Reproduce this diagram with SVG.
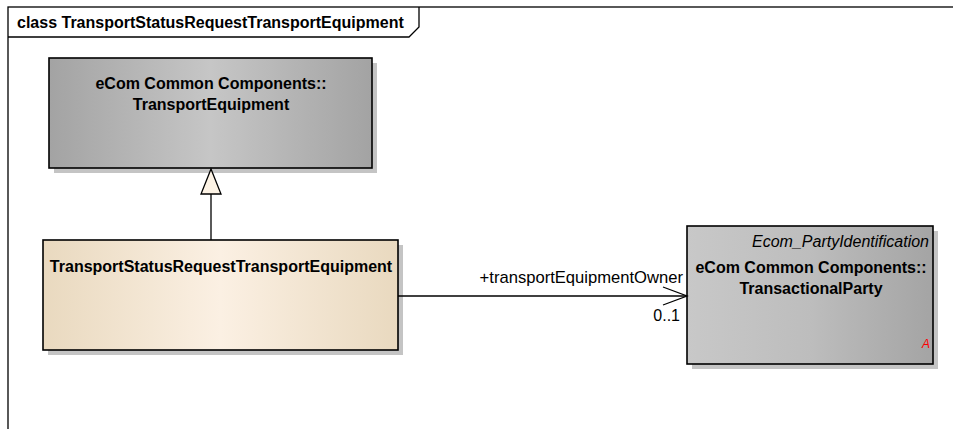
<svg xmlns="http://www.w3.org/2000/svg" width="953" height="429" viewBox="0 0 953 429">
<style>
.frame{fill:none;stroke:#000;stroke-width:1.3}
.box{stroke:#000;stroke-width:1.6}
.shadow{fill:#c4c4c4}
.name{font-family:"Liberation Sans",Arial,sans-serif;font-size:16px;font-weight:bold;fill:#000;text-anchor:middle}
.title{font-family:"Liberation Sans",Arial,sans-serif;font-size:16px;font-weight:bold;fill:#000}
.lbl{font-family:"Liberation Sans",Arial,sans-serif;font-size:16px;fill:#000}
.role{font-size:16.6px}
.it{font-family:"Liberation Sans",Arial,sans-serif;font-size:16px;font-style:italic;fill:#000}
.conn{fill:none;stroke:#000;stroke-width:1.3}
</style>
<defs>
<linearGradient id="gGray" x1="0" y1="0" x2="1" y2="0">
<stop offset="0" stop-color="#a3a3a3"/>
<stop offset="0.5" stop-color="#c6c6c6"/>
<stop offset="1" stop-color="#a3a3a3"/>
</linearGradient>
<linearGradient id="gTan" x1="0" y1="0" x2="1" y2="0">
<stop offset="0" stop-color="#e9d9bf"/>
<stop offset="0.5" stop-color="#fbf0e3"/>
<stop offset="1" stop-color="#e9d9bf"/>
</linearGradient>
<linearGradient id="gParty" x1="0" y1="0" x2="1" y2="0">
<stop offset="0" stop-color="#c8c8c8"/>
<stop offset="0.5" stop-color="#bdbdbd"/>
<stop offset="1" stop-color="#a4a4a4"/>
</linearGradient>
</defs>
<rect width="953" height="429" fill="#fff"/>
<g id="frame">
<rect class="frame" x="8" y="7" width="1000" height="500"/>
<path class="frame" d="M8,37 H409 L419,27 V7"/>
<text class="title" x="17" y="28">class TransportStatusRequestTransportEquipment</text>
</g>
<g id="TransportEquipment">
<rect class="shadow" x="54" y="63" width="323" height="110"/>
<rect class="box" x="49" y="58" width="323" height="110" fill="url(#gGray)"/>
<text class="name" x="211" y="89">eCom Common Components::</text>
<text class="name" x="211" y="110">TransportEquipment</text>
</g>
<g id="TransportStatusRequestTransportEquipment">
<rect class="shadow" x="48" y="245" width="355" height="110"/>
<rect class="box" x="43" y="240" width="355" height="110" fill="url(#gTan)"/>
<text class="name" x="221" y="272">TransportStatusRequestTransportEquipment</text>
</g>
<g id="TransactionalParty">
<rect class="shadow" x="692" y="231" width="246" height="138"/>
<rect class="box" x="687" y="226" width="246" height="138" fill="url(#gParty)"/>
<text class="it" x="929" y="247" text-anchor="end">Ecom_PartyIdentification</text>
<text class="name" x="811" y="273">eCom Common Components::</text>
<text class="name" x="811" y="294">TransactionalParty</text>
<text x="930" y="348" text-anchor="end" font-family="Liberation Sans, Arial, sans-serif" font-size="12px" font-style="italic" fill="#ff0000">A</text>
</g>
<g id="connectors">
<line class="conn" x1="211" y1="240" x2="211" y2="194"/>
<polygon points="211,169 201,194 221,194" fill="#fdf3e5" stroke="#000" stroke-width="1.3"/>
<line class="conn" x1="398" y1="296" x2="687" y2="296"/>
<polyline class="conn" points="663,287 687,296 663,305"/>
<text class="lbl role" x="683" y="283" text-anchor="end">+transportEquipmentOwner</text>
<text class="lbl" x="680" y="321" text-anchor="end">0..1</text>
</g>
</svg>
